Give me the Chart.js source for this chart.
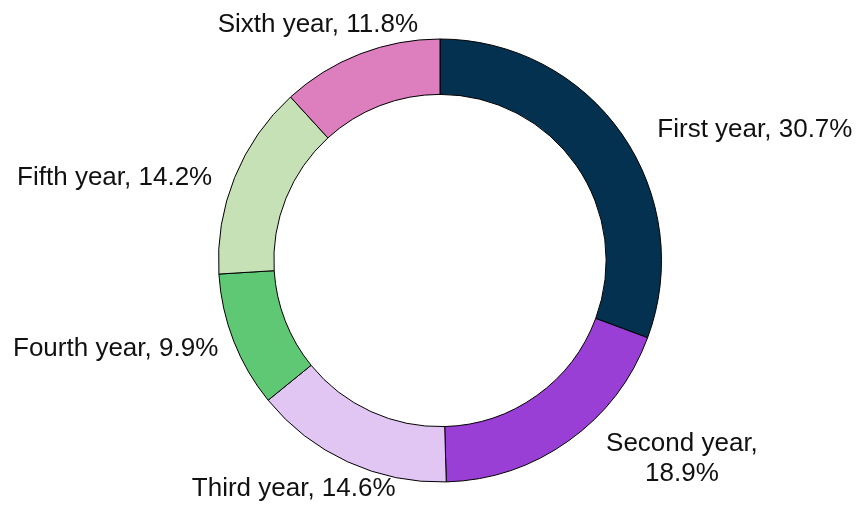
<!DOCTYPE html>
<html>
<head>
<meta charset="utf-8">
<script src="https://cdn.jsdelivr.net/npm/chart.js@4.4.1/dist/chart.umd.min.js"></script>
<style>
  html, body { margin: 0; padding: 0; background: #ffffff; }
</style>
</head>
<body>
<canvas id="myChart" width="858" height="507"></canvas>
<script>
// data
const categories = ["First year", "Second year", "Third year", "Fourth year", "Fifth year", "Sixth year"];
const shares = [30.7, 18.9, 14.6, 9.9, 14.2, 11.8];
const colors = ["#04314f", "#9a3fd5", "#e1c6f3", "#5fc874", "#c6e1b5", "#dd7fbe"];

// label text, second one wraps onto two lines
const labelLines = categories.map((c, i) => {
  let txt = c + ", " + shares[i].toFixed(1) + "%";
  if (i == 1) return [c + ",", shares[i].toFixed(1) + "%"];
  return [txt];
});

// shift of each label from the outer edge of its slice
const labelShift = [
  { dx: 133, dy: -4 },
  { dx: 113, dy: 18 },
  { dx: -54, dy: 27 },
  { dx: -118, dy: 8 },
  { dx: -120, dy: 0 },
  { dx: -42, dy: -29 },
];

const outsideLabels = {
  id: "outsideLabels",
  afterDatasetsDraw(chart) {
    const ctx = chart.ctx;
    const meta = chart.getDatasetMeta(0);
    ctx.save();
    ctx.font = "26px 'Liberation Sans', Arial, sans-serif";
    ctx.fillStyle = "#111111";
    ctx.textAlign = "center";
    ctx.textBaseline = "middle";
    meta.data.forEach((arc, i) => {
      const p = arc.getProps(["x", "y", "startAngle", "endAngle", "outerRadius"], true);
      const mid = (p.startAngle + p.endAngle) / 2;
      const ax = p.x + Math.cos(mid) * p.outerRadius;
      const ay = p.y + Math.sin(mid) * p.outerRadius;
      const lines = labelLines[i];
      const lh = 30;
      const cx = ax + labelShift[i].dx;
      const cy = ay + labelShift[i].dy - ((lines.length - 1) * lh) / 2;
      lines.forEach((ln, k) => {
        ctx.fillText(ln, cx, cy + k * lh);
      });
    });
    ctx.restore();
  },
};

var ctx = document.getElementById("myChart").getContext("2d");
var myChart = new Chart(ctx, {
  type: "doughnut",
  data: {
    labels: categories,
    datasets: [
      {
        data: shares,
        backgroundColor: colors,
        borderColor: "#000000",
        borderWidth: 1,
      },
    ],
  },
  options: {
    responsive: false,
    animation: false,
    cutout: "75%",
    layout: {
      padding: { top: 38, bottom: 24, left: 218, right: 196 },
    },
    plugins: {
      legend: { display: false },
      tooltip: { enabled: false },
    },
  },
  plugins: [outsideLabels],
});
</script>
</body>
</html>
